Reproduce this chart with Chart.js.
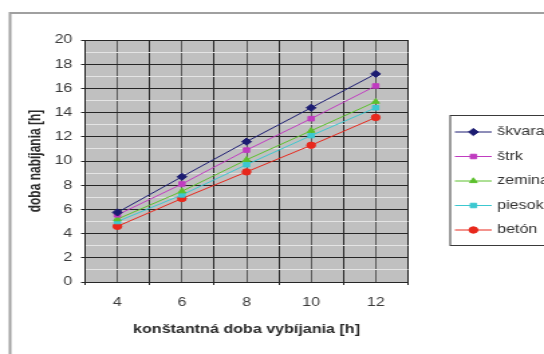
<!DOCTYPE html>
<html>
<head>
<meta charset="utf-8">
<script src="https://cdn.jsdelivr.net/npm/chart.js@4/dist/chart.umd.min.js"></script>
<style>
  html, body { margin: 0; padding: 0; background: #ffffff; overflow: hidden; }
  #wrap { width: 544px; height: 354px; position: relative; overflow: hidden; }
  /* the chart is laid out on a narrower canvas and widened, giving the wide letterforms */
  #c { transform: scaleX(1.3399); transform-origin: 0 0; }
</style>
</head>
<body>
<div id="wrap"><canvas id="c" width="406" height="354" style="width:406px;height:354px"></canvas></div>
<script>
// Discharge time (x) and the resulting charging time for each material
const dobaVybijania = [4, 6, 8, 10, 12];
const seriesNames = ['škvara', 'štrk', 'zemina', 'piesok', 'betón'];
const skvara = [5.75, 8.7, 11.6, 14.4, 17.2];
const strk   = [5.55, 8.1, 10.9, 13.5, 16.2];
const zemina = [5.2, 7.5, 10.1, 12.5, 14.9];
const piesok = [5.0, 7.2, 9.7, 12.1, 14.4];
const beton  = [4.6, 6.9, 9.1, 11.3, 13.6];
const yTickLabels = [0, 2, 4, 6, 8, 10, 12, 14, 16, 18, 20];
const xTickLabels = [4, 6, 8, 10, 12];

const seriesValues = [skvara, strk, zemina, piesok, beton];
const seriesColors = ['#1c1c72', '#c03cc0', '#5cc02c', '#3cc8d0', '#e8281c'];
const seriesMarkers = ['rectRot', 'rect', 'triangle', 'rect', 'circle'];

const FONT = '"Liberation Sans", Arial, sans-serif';

const datasets = seriesNames.map((name, i) => ({
  label: name,
  data: dobaVybijania.map((x, j) => ({ x: x, y: seriesValues[i][j] })),
  borderColor: seriesColors[i],
  backgroundColor: seriesColors[i],
  pointBackgroundColor: seriesColors[i],
  pointBorderColor: seriesColors[i],
  pointStyle: seriesMarkers[i],
  pointRadius: seriesMarkers[i] === 'rectRot' ? 3.6 : 3.2,
  borderWidth: 1,
  tension: 0
}));

// Outer frame, grey plot background and the boxed legend
const decor = {
  id: 'decor',
  beforeDraw(chart) {
    const { ctx, chartArea: a } = chart;
    ctx.save();
    ctx.fillStyle = '#c0c0c0';
    ctx.fillRect(a.left, a.top, a.right - a.left, a.bottom - a.top);
    ctx.strokeStyle = '#a0a0a0';
    ctx.lineWidth = 2;
    ctx.strokeRect(7.5, 13, 600, 500);
    ctx.restore();
  },
  afterDraw(chart) {
    const { ctx } = chart;
    const ds = chart.data.datasets;
    const boxX = 336, boxY = 115.5, rowH = 24.5;
    ctx.save();
    ctx.fillStyle = '#ffffff';
    ctx.fillRect(boxX, boxY, 150, 130);
    ctx.strokeStyle = '#3a3a3a';
    ctx.lineWidth = 1;
    ctx.strokeRect(boxX, boxY, 150, 130);
    ctx.font = '12px ' + FONT;
    ctx.textBaseline = 'middle';
    ds.forEach((d, i) => {
      const y = 132 + i * rowH;
      ctx.strokeStyle = d.borderColor;
      ctx.lineWidth = 1;
      ctx.beginPath();
      ctx.moveTo(339.5, y);
      ctx.lineTo(367, y);
      ctx.stroke();
      ctx.fillStyle = d.borderColor;
      Chart.helpers.drawPoint(ctx, {
        pointStyle: d.pointStyle,
        radius: d.pointRadius,
        rotation: 0,
        borderWidth: 1
      }, 353.3, y);
      ctx.fillStyle = '#333333';
      ctx.fillText(d.label, 371, y);
    });
    ctx.restore();
  }
};

new Chart(document.getElementById('c'), {
  type: 'line',
  data: { datasets: datasets },
  plugins: [decor],
  options: {
    responsive: false,
    animation: false,
    devicePixelRatio: 1,
    layout: { padding: { top: 40, right: 101.5, bottom: 0, left: 0 } },
    plugins: { legend: { display: false }, tooltip: { enabled: false } },
    scales: {
      x: {
        type: 'linear',
        min: 3,
        max: 13,
        afterFit(scale) { scale.height = 72; },
        afterBuildTicks(scale) {
          const t = [];
          for (let v = 3; v <= 13; v++) t.push({ value: v });
          scale.ticks = t;
        },
        ticks: {
          autoSkip: false,
          maxRotation: 0,
          padding: 10,
          color: '#3a3a3a',
          font: { family: FONT, size: 12 },
          callback: (v) => xTickLabels.includes(v) ? String(v) : ''
        },
        grid: {
          color: (c) => (c.tick && c.tick.value % 2 === 1) ? '#262626' : '#5a5a5a',
          tickColor: (c) => (c.tick && c.tick.value % 2 === 1) ? '#262626' : 'rgba(0,0,0,0)',
          tickLength: 3,
          lineWidth: 1
        },
        border: { display: false },
        title: {
          display: true,
          text: 'konštantná doba vybíjania [h]',
          color: '#2a2a2a',
          font: { family: FONT, size: 12, weight: 'bold' },
          padding: { top: 0, bottom: 17 }
        }
      },
      y: {
        min: 0,
        max: 20,
        afterFit(scale) { scale.width = 63.5; },
        afterBuildTicks(scale) {
          const t = [];
          for (let v = 0; v <= 20; v++) t.push({ value: v });
          scale.ticks = t;
        },
        ticks: {
          autoSkip: false,
          padding: 6.5,
          color: '#3a3a3a',
          font: { family: FONT, size: 12 },
          callback: (v) => yTickLabels.includes(v) ? String(v) : ''
        },
        grid: {
          color: (c) => (c.tick && c.tick.value % 2 === 0) ? '#262626' : '#e4e4e4',
          tickColor: (c) => (c.tick && c.tick.value % 2 === 0) ? '#262626' : 'rgba(0,0,0,0)',
          tickLength: 3,
          lineWidth: 1
        },
        border: { display: false },
        title: {
          display: true,
          text: 'doba nabíjania [h]',
          color: '#2a2a2a',
          font: { family: FONT, size: 12, weight: 'bold' },
          padding: { top: 19, bottom: 0 }
        }
      }
    }
  }
});
</script>
</body>
</html>
